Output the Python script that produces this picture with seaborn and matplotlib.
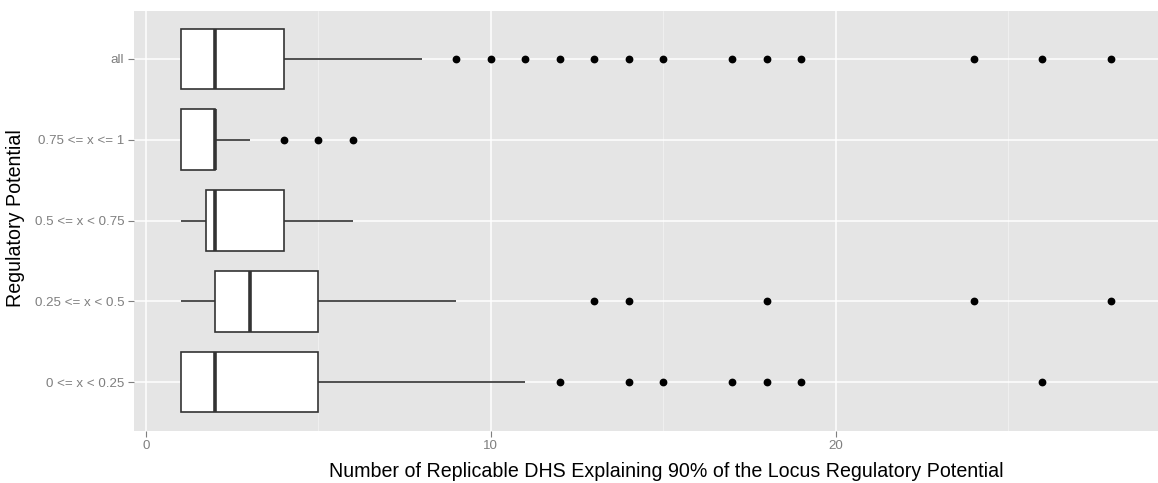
import numpy as np
import pandas as pd
import matplotlib
matplotlib.use("Agg")
import matplotlib.pyplot as plt
import seaborn as sns
from matplotlib.ticker import MultipleLocator

# Number of replicable DHS needed to explain 90% of each locus' regulatory potential,
# grouped by the locus regulatory-potential bin.
categories = ["all", "0.75 <= x <= 1", "0.5 <= x < 0.75", "0.25 <= x < 0.5", "0 <= x < 0.25"]

dhs_all = [1, 1, 1, 1, 1, 1, 1, 1, 1, 1, 1, 1, 1, 1, 1, 1,
           2, 2, 2, 2, 2, 2, 2, 2, 2, 2, 2, 2, 2, 2, 2, 2,
           3, 3, 3, 3, 3, 3, 3,
           4, 4, 4, 4, 4, 4, 4,
           8, 9, 10, 11, 12, 13, 14, 15, 17, 18, 19, 24, 26, 28]
dhs_075_1 = [1, 1, 1, 1, 1, 1,
             2, 2, 2, 2, 2, 2, 2, 2, 2, 2,
             3, 4, 5, 6]
dhs_05_075 = [1, 1, 1, 2, 2, 2, 2, 3, 4, 4, 5, 6]
dhs_025_05 = [1, 1, 1,
              2, 2, 2, 2, 2, 2, 2,
              3, 3, 3, 3, 3, 3,
              4, 4, 4,
              5, 5, 5,
              9, 13, 14, 18, 24, 28]
dhs_0_025 = [1, 1, 1, 1, 1, 1, 1, 1, 1, 1,
             2, 2, 2, 2, 2, 2, 2, 2, 2, 2, 2,
             3, 3, 3,
             4, 4,
             5, 5,
             11, 12, 14, 15, 17, 18, 19, 26]

groups = [dhs_all, dhs_075_1, dhs_05_075, dhs_025_05, dhs_0_025]
df = pd.DataFrame({
    "potential": np.concatenate([[c] * len(g) for c, g in zip(categories, groups)]),
    "n_dhs": np.concatenate([np.asarray(g, dtype=float) for g in groups]),
})

sns.set_theme(style="darkgrid")
plt.rcParams["font.family"] = ["Liberation Sans", "DejaVu Sans"]

W, H = 1158, 483
fig = plt.figure(figsize=(W / 100, H / 100), dpi=100)
left, right, top, bottom = 134, 1158, 10.5, 430.5
ax = fig.add_axes([left / W, 1 - bottom / H, (right - left) / W, (bottom - top) / H])

sns.boxplot(
    data=df, x="n_dhs", y="potential", order=categories, ax=ax,
    color="white", linecolor="#333333", linewidth=1.2, width=0.75,
    showcaps=False, saturation=1,
    medianprops=dict(linewidth=2.6, color="#333333"),
    flierprops=dict(marker="o", markerfacecolor="black", markeredgecolor="black",
                    markersize=4.6),
)

ax.set_facecolor("#E5E5E5")
ax.xaxis.set_major_locator(MultipleLocator(10))
ax.xaxis.set_minor_locator(MultipleLocator(5))
ax.grid(False)
ax.xaxis.grid(True, which="major", color="white", linewidth=1.1)
ax.xaxis.grid(True, which="minor", color="#F2F2F2", linewidth=0.6)
ax.yaxis.grid(True, which="major", color="white", linewidth=1.1)
ax.set_axisbelow(True)

ax.set_xlim(-0.35, 29.35)
ax.set_ylim(len(categories) - 1 + 0.6, -0.6)

for s in ax.spines.values():
    s.set_visible(False)

ax.tick_params(axis="both", which="major", length=4, width=0.8, color="#7F7F7F",
               labelcolor="#7F7F7F", labelsize=9.6, pad=3,
               bottom=True, left=True)
ax.tick_params(axis="x", which="minor", length=0, bottom=False)

ax.set_xlabel("Number of Replicable DHS Explaining 90% of the Locus Regulatory Potential",
              fontsize=14.1, color="black")
ax.set_ylabel("Regulatory Potential", fontsize=14.1, color="black")
ax.xaxis.set_label_coords(0.5195, -0.075)
ax.yaxis.set_label_coords(-0.1064, 0.505)

fig.savefig("out.png", dpi=100)
